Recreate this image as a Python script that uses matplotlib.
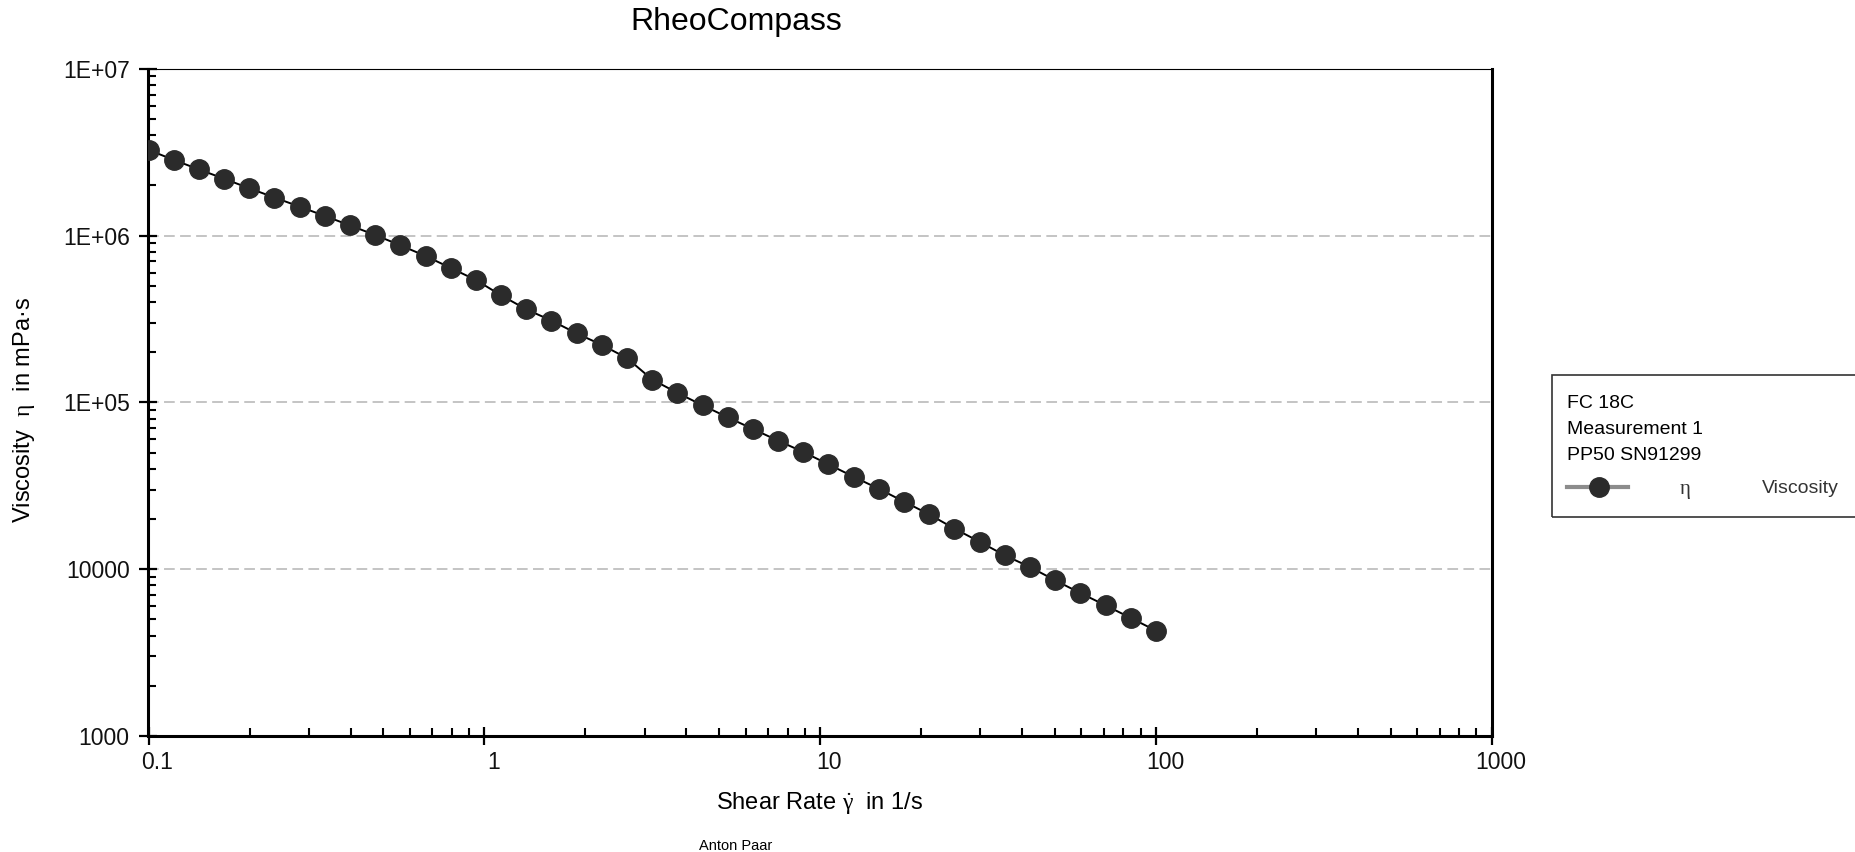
import numpy as np
import matplotlib
matplotlib.use("Agg")
import matplotlib.pyplot as plt
import matplotlib.ticker as mticker
import matplotlib.transforms as mtransforms
from matplotlib.patches import Rectangle
from matplotlib.lines import Line2D

plt.rcParams['font.family'] = ['Liberation Sans', 'DejaVu Sans']
# chữ Hy Lạp đứng, kiểu serif như bản gốc
plt.rcParams['mathtext.fontset'] = 'custom'
plt.rcParams['mathtext.rm'] = 'Liberation Serif'
plt.rcParams['mathtext.it'] = 'Liberation Serif'
plt.rcParams['mathtext.bf'] = 'Liberation Serif:bold'

# Dữ liệu
shear_rate = [0.1, 0.1189, 0.1413, 0.1679, 0.1995, 0.2371, 0.2818, 0.3350, 0.3981, 0.4732,
              0.5623, 0.6683, 0.7943, 0.9441, 1.122, 1.334, 1.585, 1.884, 2.239, 2.661,
              3.162, 3.758, 4.467, 5.309, 6.310, 7.499, 8.913, 10.59, 12.59, 14.96,
              17.78, 21.13, 25.12, 29.85, 35.48, 42.17, 50.12, 59.57, 70.79, 84.14, 100.0]
viscosity = [3.26e6, 2.84e6, 2.49e6, 2.19e6, 1.92e6, 1.69e6, 1.49e6, 1.31e6, 1.15e6, 1.007e6,
             8.74e5, 7.54e5, 6.39e5, 5.41e5, 4.38e5, 3.61e5, 3.09e5, 2.59e5, 2.21e5, 1.84e5,
             1.37e5, 1.14e5, 9.6e4, 8.13e4, 6.92e4, 5.89e4, 5.04e4, 4.25e4, 3.58e4, 3.03e4,
             2.54e4, 2.13e4, 1.75e4, 1.46e4, 1.21e4, 1.03e4, 8570, 7190, 6070, 5100, 4280]

x_ticks = [0.1, 1, 10, 100, 1000]
x_tick_labels = ["0.1", "1", "10", "100", "1000"]
y_ticks = [1e3, 1e4, 1e5, 1e6, 1e7]
y_tick_labels = ["1000", "10000", "1E+05", "1E+06", "1E+07"]
legend_lines = ["FC 18C", "Measurement 1", "PP50 SN91299"]

W, H = 1856, 852
fig = plt.figure(figsize=(W / 100, H / 100), dpi=100)
ax = fig.add_axes([148.5 / W, 1 - 736 / H, (1491.7 - 148.5) / W, (736 - 68.7) / H])

dot_color = "#2b2b2b"
ax.plot(shear_rate, viscosity, color="black", lw=1.4, marker="o", ms=14,
        mfc=dot_color, mec=dot_color, zorder=3)

ax.set_xscale("log")
ax.set_yscale("log")
ax.set_xlim(0.1, 1000)
ax.set_ylim(1e3, 1e7)

ax.set_xticks(x_ticks)
ax.set_xticklabels(x_tick_labels)
ax.set_yticks(y_ticks)
ax.set_yticklabels(y_tick_labels)
for axis in (ax.xaxis, ax.yaxis):
    axis.set_minor_locator(mticker.LogLocator(base=10, subs=np.arange(2, 10), numticks=20))
    axis.set_minor_formatter(mticker.NullFormatter())

ax.tick_params(which="major", direction="inout", length=13, width=1.6,
               labelsize=16.5, colors="black", labelcolor="#111111")
ax.tick_params(axis="y", which="major", pad=7)
ax.tick_params(axis="x", which="major", pad=4)
ax.tick_params(which="minor", direction="in", length=5.8, width=1.5)

# nhãn trục x lệch phải một chút
offset = mtransforms.ScaledTranslation(9 / 100, 0, fig.dpi_scale_trans)
for lab in ax.get_xticklabels():
    lab.set_transform(lab.get_transform() + offset)

for side in ("left", "bottom", "right"):
    ax.spines[side].set_linewidth(2.2)
    ax.spines[side].set_color("black")
ax.spines["top"].set_linewidth(0.8)
ax.spines["top"].set_color("black")

ax.yaxis.grid(True, which="major", color="#b4b4b4", linestyle=(0, (7, 3.5)), linewidth=1.1)
ax.xaxis.grid(False)
ax.set_axisbelow(True)

# Tiêu đề và nhãn trục
fig.text(736 / W, 1 - 22 / H, "RheoCompass", ha="center", va="center", fontsize=23)
fig.text(820 / W, 1 - 803 / H, r"Shear Rate $\dot{\gamma}$  in 1/s", ha="center", va="center", fontsize=17)
fig.text(24 / W, 1 - 410 / H, r"Viscosity  $\eta$  in mPa·s", ha="center", va="center",
         rotation=90, fontsize=17)
fig.text(736 / W, 1 - 846 / H, "Anton Paar", ha="center", va="center", fontsize=10.5)

# Hộp chú thích
fig.patches.append(Rectangle((1551.7 / W, 1 - 517.3 / H), 400 / W, (517.3 - 375) / H,
                             transform=fig.transFigure, fill=False, edgecolor="#333333", lw=1.2))
for k, txt in enumerate(legend_lines):
    fig.text(1566.7 / W, 1 - (403 + k * 26) / H, txt, ha="left", va="center", fontsize=14)
fig.lines.append(Line2D([1567 / W, 1628 / W], [1 - 486.7 / H, 1 - 486.7 / H],
                        transform=fig.transFigure, color="#8c8c8c", lw=3))
fig.lines.append(Line2D([1599 / W], [1 - 486.7 / H], transform=fig.transFigure,
                        marker="o", ms=14, mfc=dot_color, mec=dot_color, ls="none"))
fig.text(1685 / W, 1 - 491 / H, r"$\eta$", ha="center", va="center", fontsize=15, color="#333333")
fig.text(1762 / W, 1 - 488 / H, "Viscosity", ha="left", va="center", fontsize=14, color="#333333")

fig.savefig("out.png", dpi=100)
